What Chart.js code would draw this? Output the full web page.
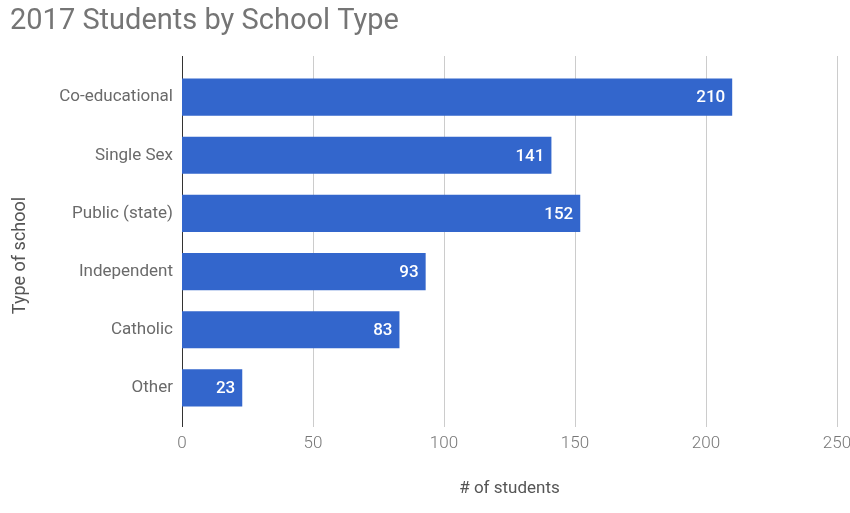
<!DOCTYPE html>
<html>
<head>
<meta charset="utf-8">
<title>2017 Students by School Type</title>
<script src="https://cdn.jsdelivr.net/npm/chart.js@4/dist/chart.umd.min.js"></script>
<style>
  html, body { margin: 0; padding: 0; background: #fff; }
  #wrap { width: 850px; height: 513px; }
</style>
</head>
<body>
<div id="wrap"><canvas id="schoolChart" width="850" height="513"></canvas></div>
<script>
// School types and student counts
const schoolTypes = ["Co-educational", "Single Sex", "Public (state)", "Independent", "Catholic", "Other"];
const studentCounts = [210, 141, 152, 93, 83, 23];
const xTicks = [0, 50, 100, 150, 200, 250];

const FONT = "Roboto, 'Liberation Sans', Arial, sans-serif";

// vertical grid lines run a bit past the bar area, plus a dark baseline at 0
const gridPlugin = {
  id: "extendedGrid",
  beforeDatasetsDraw(chart) {
    const { ctx, chartArea, scales } = chart;
    const top = chartArea.top - 12;
    const bottom = chartArea.bottom + 10;
    ctx.save();
    ctx.lineWidth = 1;
    xTicks.forEach((v) => {
      const x = Math.round(scales.x.getPixelForValue(v)) + 0.5;
      ctx.strokeStyle = v === 0 ? "#333333" : "#cccccc";
      ctx.beginPath();
      ctx.moveTo(x, top);
      ctx.lineTo(x, bottom);
      ctx.stroke();
    });
    ctx.restore();
  },
};

// value labels inside the end of each bar, and the rotated y axis title
const barLabels = {
  id: "barLabels",
  afterDatasetsDraw(chart) {
    const { ctx, chartArea } = chart;
    const meta = chart.getDatasetMeta(0);
    ctx.save();
    ctx.fillStyle = "#ffffff";
    ctx.font = "500 17px " + FONT;
    ctx.textAlign = "right";
    ctx.textBaseline = "middle";
    meta.data.forEach((bar, i) => {
      ctx.fillText(String(studentCounts[i]), bar.x - 7, bar.y + 1);
    });

    ctx.translate(20, (chartArea.top + chartArea.bottom) / 2 + 13);
    ctx.rotate(-Math.PI / 2);
    ctx.fillStyle = "#555555";
    ctx.font = "18px " + FONT;
    ctx.textAlign = "center";
    ctx.fillText("Type of school", 0, 0);
    ctx.restore();
  },
};

new Chart(document.getElementById("schoolChart"), {
  type: "bar",
  data: {
    labels: schoolTypes,
    datasets: [
      {
        label: "# of students",
        data: studentCounts,
        backgroundColor: "#3366cc",
        borderWidth: 0,
        categoryPercentage: 1,
        barPercentage: 0.64,
      },
    ],
  },
  options: {
    indexAxis: "y",
    responsive: false,
    animation: false,
    layout: { padding: { left: 10, top: 4, right: 13, bottom: 0 } },
    plugins: {
      legend: { display: false },
      tooltip: { enabled: false },
      title: {
        display: true,
        text: "2017 Students by School Type",
        align: "start",
        color: "#757575",
        font: { family: FONT, size: 29, weight: "normal" },
        padding: { top: 0, bottom: 29.2 },
      },
    },
    scales: {
      x: {
        min: 0,
        max: 250,
        afterBuildTicks(scale) {
          scale.ticks = xTicks.map((v) => ({ value: v }));
        },
        afterFit(scale) {
          scale.height = 96;
          // let the last tick label run to the canvas edge
          scale.paddingLeft = 0;
          scale.paddingRight = 0;
        },
        grid: { display: false, drawTicks: false },
        border: { display: false },
        ticks: {
          padding: 17,
          maxRotation: 0,
          color: "#777777",
          font: { family: FONT, size: 17, weight: 300 },
        },
        title: {
          display: true,
          text: "# of students",
          color: "#555555",
          font: { family: FONT, size: 17 },
          padding: 14,
        },
      },
      y: {
        afterFit(scale) {
          scale.width = 172;
        },
        grid: { display: false, drawTicks: false },
        border: { display: false },
        ticks: {
          padding: 9,
          color: "#6a6a6a",
          font: { family: FONT, size: 17 },
        },
      },
    },
  },
  plugins: [gridPlugin, barLabels],
});
</script>
</body>
</html>
